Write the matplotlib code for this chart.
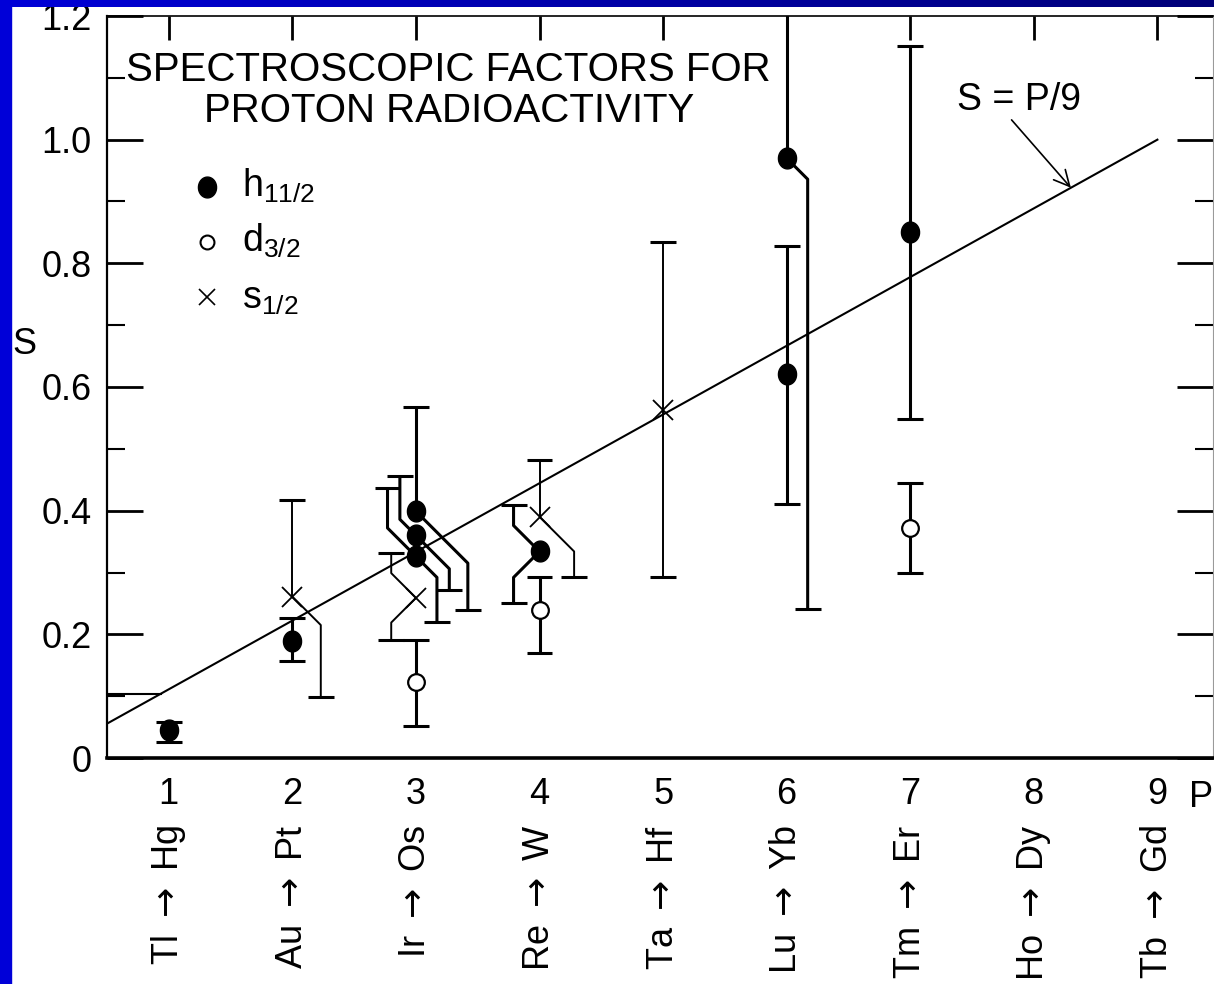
import numpy as np
import matplotlib.pyplot as plt
from matplotlib.path import Path
from matplotlib.patches import Rectangle
from matplotlib.colors import LinearSegmentedColormap

plt.rcParams['font.family'] = ['Liberation Sans', 'DejaVu Sans']
plt.rcParams['mathtext.fontset'] = 'dejavusans'

# h11/2 states (filled circles)
h_P = [1, 2, 3, 3, 3, 4, 6, 6, 7]
h_S = [0.045, 0.190, 0.399, 0.360, 0.326, 0.334, 0.970, 0.621, 0.851]
h_lo = [0.026, 0.157, 0.239, 0.272, 0.220, 0.251, 0.241, 0.411, 0.548]
h_hi = [0.059, 0.226, 0.568, 0.456, 0.437, 0.409, 1.30, 0.828, 1.152]

# d3/2 states (open circles)
d_P = [3, 4, 7]
d_S = [0.123, 0.239, 0.372]
d_lo = [0.052, 0.170, 0.299]
d_hi = [0.191, 0.293, 0.444]

# s1/2 states (crosses)
s_P = [2, 3, 4, 5]
s_S = [0.261, 0.259, 0.390, 0.563]
s_lo = [0.099, 0.191, 0.293, 0.293]
s_hi = [0.417, 0.331, 0.482, 0.835]

# sideways shift of the (upper, lower) error bar so overlapping bars stay readable
h_shift = [(0, 0), (0, 0), (0, 0.42), (-0.13, 0.27), (-0.23, 0.17),
           (-0.21, -0.21), (0, 0.17), (0, 0), (0, 0)]
d_shift = [(0, 0), (0, 0), (0, 0)]
s_shift = [(0, 0.23), (-0.20, -0.20), (0, 0.28), (0, 0)]

parents = ["Tl", "Au", "Ir", "Re", "Ta", "Lu", "Tm", "Ho", "Tb"]
daughters = ["Hg", "Pt", "Os", "W", "Hf", "Yb", "Er", "Dy", "Gd"]
p_ticks = list(range(1, 10))
s_level = 0.104   # short horizontal level at the left edge

xlim = (0.5, 9.45)
ylim = (0.0, 1.2)

fig = plt.figure(figsize=(12.14, 9.84), dpi=100)
rect = [107 / 1214, 1 - 758 / 984, 1106 / 1214, 742 / 984]
ax = fig.add_axes(rect)
ax.set_xlim(*xlim)
ax.set_ylim(*ylim)

# slope that makes a 45 degree kink on screen
k = (rect[2] * 1214 / (xlim[1] - xlim[0])) / (rect[3] * 984 / (ylim[1] - ylim[0]))
cap = 0.105


def draw_bar(p, s, end, dx, lw):
    if dx == 0:
        xs, ys = [p, p], [s, end]
    else:
        sign = 1 if end > s else -1
        d = min(abs(dx) * k, abs(end - s))
        xs = [p, p + dx, p + dx]
        ys = [s, s + sign * d, end]
    ax.plot(xs, ys, color='black', lw=lw, solid_capstyle='butt', zorder=2)
    ax.plot([p + dx - cap, p + dx + cap], [end, end], color='black', lw=2.2,
            solid_capstyle='butt', zorder=2)


def draw_set(P, S, lo, hi, shifts, lw):
    for p, s, a, b, (du, dd) in zip(P, S, lo, hi, shifts):
        draw_bar(p, s, b, du, lw)
        draw_bar(p, s, a, dd, lw)


draw_set(h_P, h_S, h_lo, h_hi, h_shift, 2.2)
draw_set(d_P, d_S, d_lo, d_hi, d_shift, 2.2)
draw_set(s_P, s_S, s_lo, s_hi, s_shift, 1.4)

# slightly tall dot
t = np.linspace(0, 2 * np.pi, 60)
dot = Path(np.column_stack([np.cos(t), 1.15 * np.sin(t)]))

ax.plot(h_P, h_S, ls='none', marker=dot, ms=15, color='black', zorder=4)
ax.plot(d_P, d_S, ls='none', marker='o', ms=12, mfc='white', mec='black',
        mew=1.6, zorder=4)
ax.plot(s_P, s_S, ls='none', marker='x', ms=14, color='black', mew=1.3, zorder=4)

# S = P/9 line
px = np.array([0.5, 9.0])
ax.plot(px, px / 9, color='black', lw=1.5, zorder=3)
ax.plot([xlim[0], s_level * 9], [s_level, s_level], color='black', lw=1.5, zorder=3)
ax.text(7.88, 1.064, 'S = P/9', ha='center', va='center', fontsize=27)
ax.annotate('', xy=(8.30, 8.30 / 9), xytext=(7.82, 1.032),
            arrowprops=dict(arrowstyle='->', lw=1.2, color='black',
                            mutation_scale=28, shrinkA=0, shrinkB=0))

# title inside the frame
ax.text(0.309, 0.899, 'SPECTROSCOPIC FACTORS FOR\nPROTON RADIOACTIVITY',
        transform=ax.transAxes, ha='center', va='center', fontsize=29,
        linespacing=1.1)

# hand-made legend
lx, tx = 0.0904, 0.122
ax.plot([lx], [0.7695], transform=ax.transAxes, marker=dot, ms=15,
        color='black', clip_on=False)
ax.plot([lx], [0.6954], transform=ax.transAxes, marker='o', ms=10,
        mfc='white', mec='black', mew=1.5, clip_on=False)
ax.plot([lx], [0.621], transform=ax.transAxes, marker='x', ms=11,
        color='black', mew=1.2, clip_on=False)
ax.text(tx, 0.756, r'$\mathregular{h_{11/2}}$', transform=ax.transAxes,
        va='baseline', fontsize=27)
ax.text(tx, 0.682, r'$\mathregular{d_{3/2}}$', transform=ax.transAxes,
        va='baseline', fontsize=27)
ax.text(tx, 0.606, r'$\mathregular{s_{1/2}}$', transform=ax.transAxes,
        va='baseline', fontsize=27)

# axes frame and ticks
ax.set_yticks([0, 0.2, 0.4, 0.6, 0.8, 1.0, 1.2])
ax.set_yticklabels(['0', '0.2', '0.4', '0.6', '0.8', '1.0', '1.2'])
ax.set_yticks(np.arange(0.1, 1.2, 0.2), minor=True)
ax.set_xticks(p_ticks)
ax.set_xticklabels([str(p) for p in p_ticks])
ax.tick_params(axis='y', which='major', direction='in', length=26, width=2,
               left=True, right=True, labelsize=26, pad=11)
ax.tick_params(axis='y', which='minor', direction='in', length=13, width=1.5,
               left=True, right=True)
ax.tick_params(axis='x', which='major', direction='in', length=17, width=2,
               top=True, bottom=False, labelsize=26, pad=14)
ax.spines['left'].set_linewidth(1.6)
ax.spines['bottom'].set_linewidth(2.6)
ax.spines['top'].set_linewidth(1.2)
ax.spines['right'].set_linewidth(0.8)
ax.spines['right'].set_color('#9a9a9a')

ax.text(1.0, -0.0526, 'P', transform=ax.transAxes, ha='right',
        va='center', fontsize=26, clip_on=False)
for p, a, b in zip(p_ticks, parents, daughters):
    ax.text(p, -0.09, a + ' $\\rightarrow$ ' + b,
            transform=ax.get_xaxis_transform(), rotation=90,
            ha='center', va='top', fontsize=26, clip_on=False)

fig.text(12 / 1214, 1 - 345 / 984, 'S', ha='left', va='center', fontsize=26)

# blue slide border
fig.patches.append(Rectangle((0, 0), 11 / 1214, 1, transform=fig.transFigure,
                             color='#0000d8', zorder=5))
bar_ax = fig.add_axes([0, 1 - 7 / 984, 1, 7 / 984])
blues = LinearSegmentedColormap.from_list('border', ['#0000d8', '#000078'])
bar_ax.imshow(np.linspace(0, 1, 256)[None, :], aspect='auto', cmap=blues)
bar_ax.set_axis_off()

fig.savefig('out.png', dpi=100)
